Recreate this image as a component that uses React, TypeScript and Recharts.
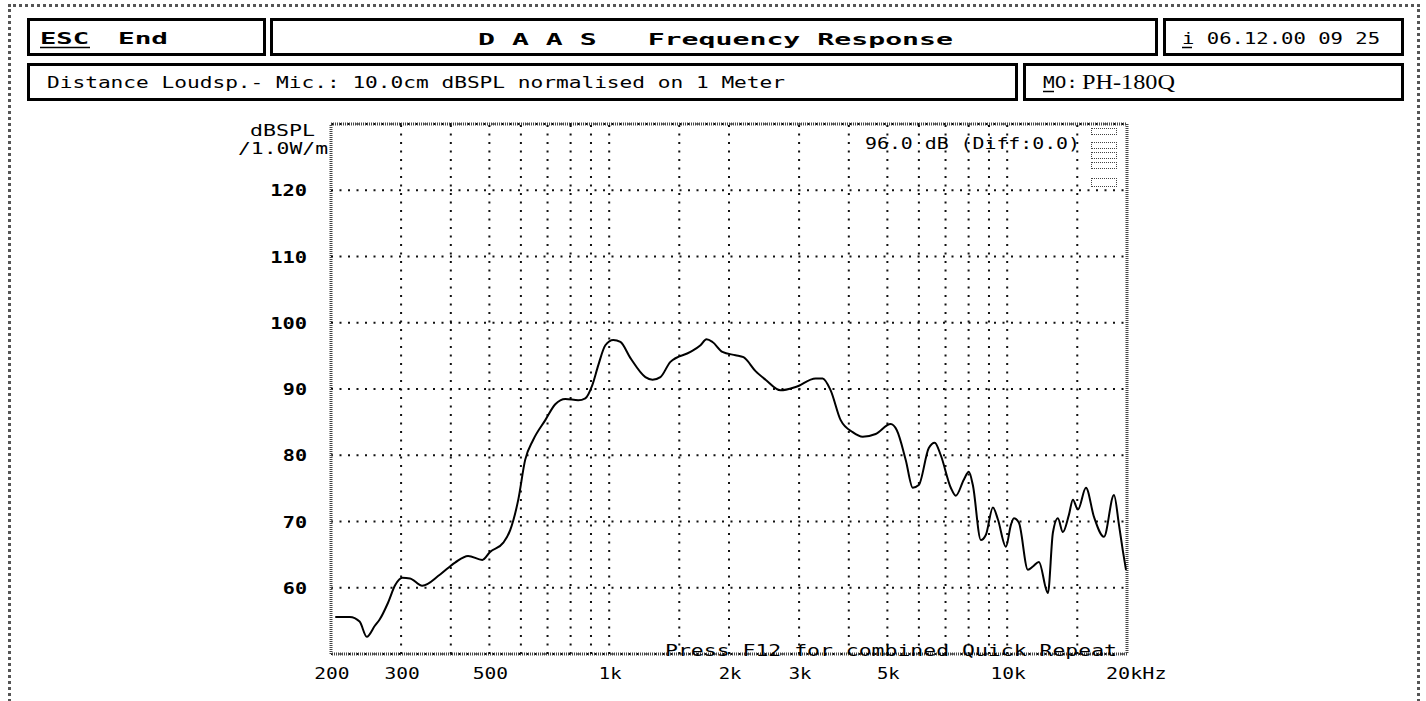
import React from 'react'
import {
  LineChart, Line, XAxis, YAxis, CartesianGrid, ReferenceLine, ReferenceArea
} from 'recharts'

// frequency response readings (Hz, dBSPL)
const freqs = [
  205, 223, 236, 246, 258, 265, 278, 290, 302, 316, 339, 376, 410, 442, 480, 502,
  542, 564, 591, 615, 644, 691, 732, 776, 836, 871, 907, 939, 978, 1024, 1067, 1130,
  1233, 1285, 1345, 1425, 1600, 1696, 1756, 1818, 1925, 2077, 2175, 2332, 2471, 2696,
  2940, 3301, 3438, 3601, 3816, 4090, 4335, 4673, 5097, 5277, 5560, 5791, 5996, 6354,
  6576, 6810, 7216, 7428, 7780, 8009, 8198, 8587, 8842, 9208, 9478, 9925, 10218, 10397,
  10703, 11274, 11603, 12013, 12655, 13026, 13408, 13802, 14291, 14626, 15057, 15772,
  16521, 17504, 18548, 19093, 19545, 19885,
]
const levels = [
  55.6, 55.6, 54.9, 52.6, 54.3, 55.2, 57.7, 60.4, 61.5, 61.4, 60.3, 62.0, 63.8, 64.8, 64.2, 65.4,
  66.8, 68.7, 73.3, 79.3, 82.3, 85.3, 87.7, 88.5, 88.3, 88.6, 90.6, 93.6, 96.6, 97.4, 97.1, 94.7,
  91.8, 91.4, 91.8, 94.1, 95.6, 96.6, 97.5, 97.1, 95.6, 95.1, 94.8, 92.7, 91.4, 89.8,
  90.3, 91.6, 91.6, 89.8, 85.3, 83.5, 82.8, 83.2, 84.7, 83.8, 79.3, 75.1, 75.5, 81.1,
  81.9, 80.0, 75.1, 73.9, 76.3, 77.5, 75.5, 67.2, 68.0, 72.1, 70.3, 66.2, 69.5, 70.5,
  69.8, 62.7, 63.2, 63.9, 59.2, 68.3, 70.5, 68.4, 71.0, 73.3, 71.8, 75.1,
  70.7, 67.7, 74.0, 69.5, 65.4, 62.7,
]

const xTicks = [200, 300, 500, 1000, 2000, 3000, 5000, 10000, 20000]
const xTickLabels = ['200', '300', '500', '1k', '2k', '3k', '5k', '10k', '20kHz']
const yTicks = [60, 70, 80, 90, 100, 110, 120]
const gridFreqs = [
  300, 400, 500, 600, 700, 800, 900, 1000, 1500, 2000, 3000, 4000, 5000,
  6000, 7000, 8000, 9000, 10000, 15000,
]

const data = freqs.map((f, i) => ({ f, db: levels[i] }))

const mono = "'DejaVu Sans Mono', 'Liberation Mono', monospace"
const CH = 12.6 // advance of one character of the old screen font

// text stretched to the wide pixel font of the original screen
function T({ x, y, w, children, bold, anchor, size = 16, family = mono }: any) {
  return (
    <text x={x} y={y} textLength={w} lengthAdjust="spacingAndGlyphs"
      textAnchor={anchor || 'start'} fill="#000"
      style={{ fontFamily: family, fontSize: size, fontWeight: bold ? 'bold' : 'normal', whiteSpace: 'pre' }}>
      {children}
    </text>
  )
}

function Box({ left, top, width, height }: any) {
  return (
    <div style={{
      position: 'absolute', left, top, width, height, boxSizing: 'border-box',
      border: '3px solid #000',
    }} />
  )
}

function XTick({ x, y, payload }: any) {
  const label = xTickLabels[xTicks.indexOf(payload.value)]
  const last = payload.value === 20000
  const w = label.length * CH - 2.5
  return last
    ? <T x={x - 21} y={y + 25} w={w}>{label}</T>
    : <T x={x + 1} y={y + 25} w={w} anchor="middle">{label}</T>
}

function YTick({ x, y, payload }: any) {
  const s = String(payload.value)
  return <T x={x - 24} y={y + 6} w={s.length * CH - 1} anchor="end" bold>{s}</T>
}

export default function App() {
  return (
    <div style={{ position: 'absolute', left: 0, top: 0, width: 1426, height: 701, background: '#fff', overflow: 'hidden' }}>
      {/* outer dotted frame */}
      <div style={{
        position: 'absolute', left: 8, top: 4, width: 1412, height: 710, boxSizing: 'border-box',
        border: '3px dotted #555',
      }} />

      {/* header boxes */}
      <Box left={27} top={18} width={239} height={38} />
      <Box left={270} top={18} width={888} height={38} />
      <Box left={1163} top={18} width={241} height={38} />
      <Box left={27} top={63} width={991} height={38} />
      <Box left={1023} top={63} width={381} height={38} />

      <div style={{ position: 'absolute', left: 0, top: 0 }}>
        <LineChart width={1426} height={701} data={data}
          margin={{ top: 124, right: 299, bottom: 7, left: 271 }}>
          <CartesianGrid vertical={false} stroke="#111" strokeWidth={2} strokeDasharray="2 6.5" />
          {gridFreqs.map(g => (
            <ReferenceLine key={g} x={g} stroke="#111" strokeWidth={2} strokeDasharray="2 6.5" />
          ))}
          <XAxis dataKey="f" type="number" scale="log" domain={[200, 20000]} allowDataOverflow
            ticks={xTicks} tick={<XTick />} tickLine={false} axisLine={false}
            tickSize={0} tickMargin={0} height={40} interval={0} />
          <YAxis type="number" domain={[50, 130]} allowDataOverflow ticks={yTicks}
            tick={<YTick />} tickLine={false} axisLine={false} tickSize={0} tickMargin={0} width={60} />
          <ReferenceArea x1={200} x2={20000} y1={50} y2={130} fill="none"
            stroke="#444" strokeWidth={3} strokeDasharray="1 1" />
          <Line dataKey="db" type="monotone" stroke="#000" strokeWidth={2}
            dot={false} isAnimationActive={false} />
        </LineChart>
      </div>

      {/* texts of the measuring screen */}
      <svg width={1426} height={701} style={{ position: 'absolute', left: 0, top: 0, pointerEvents: 'none' }}>
        <T x={40} y={44} w={49} bold>ESC</T>
        <line x1={40} x2={90} y1={47.5} y2={47.5} stroke="#000" strokeWidth={1.5} />
        <T x={118} y={44} w={50} bold>End</T>
        <T x={478} y={45} w={475} bold>{'D A A S   Frequency Response'}</T>
        <T x={1182} y={44} w={198}>{'i 06.12.00 09 25'}</T>
        <line x1={1182} x2={1192} y1={47.5} y2={47.5} stroke="#000" strokeWidth={1.5} />

        <T x={47} y={88} w={738}>Distance Loudsp.- Mic.: 10.0cm dBSPL normalised on 1 Meter</T>
        <T x={1043} y={88} w={35}>MO:</T>
        <line x1={1043} x2={1054} y1={91.5} y2={91.5} stroke="#000" strokeWidth={1.5} />
        <T x={1082} y={89} w={93} size={22} family="'Liberation Serif', serif">PH-180Q</T>

        <T x={315} y={136} w={65} anchor="end">dBSPL</T>
        <T x={328} y={154} w={90} anchor="end">/1.0W/m</T>

        <T x={865} y={149} w={215}>96.0 dB (Diff:0.0)</T>
        <T x={665} y={656} w={452}>Press F12 for combined Quick Repeat</T>
      </svg>

      {/* small dotted marker column at the top right of the plot */}
      {[128, 142, 152, 162, 178].map((t, i) => (
        <div key={i} style={{
          position: 'absolute', left: 1091, top: t, width: 26, height: i === 4 ? 9 : 7,
          boxSizing: 'border-box', border: '1px dotted #444',
        }} />
      ))}
    </div>
  )
}
